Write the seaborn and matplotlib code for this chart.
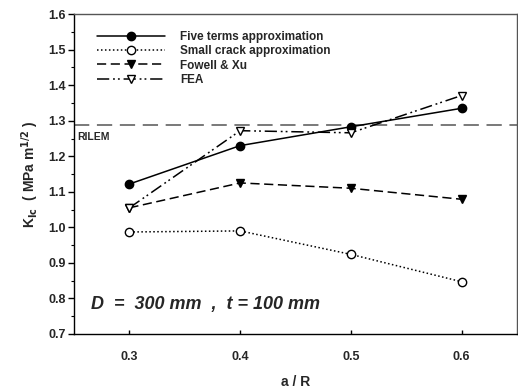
import matplotlib
matplotlib.use("Agg")
import matplotlib.pyplot as plt
from matplotlib.ticker import MultipleLocator
import seaborn as sns
import pandas as pd

# a/R ratios and fracture toughness results (MPa m^1/2)
a_over_r = [0.3, 0.4, 0.5, 0.6]
five_terms = [1.122, 1.230, 1.283, 1.335]
small_crack = [0.987, 0.990, 0.924, 0.847]
fowell_xu = [1.055, 1.125, 1.110, 1.079]
fea = [1.055, 1.272, 1.266, 1.371]
rilem_value = 1.288

series_labels = ["Five terms approximation", "Small crack approximation",
                 "Fowell & Xu", "FEA"]

sns.set_theme(style="white")
plt.rcParams["font.family"] = ["Liberation Sans", "DejaVu Sans"]
plt.rcParams["font.weight"] = "bold"
plt.rcParams["mathtext.default"] = "bf"

fig = plt.figure(figsize=(5.18, 3.92), dpi=100)
ax = fig.add_axes([0.143, 0.148, 0.855, 0.816])

styles = [
    dict(marker="o", linestyle="-", mfc="black", mec="black"),
    dict(marker="o", linestyle=(0, (1, 1.6)), mfc="white", mec="black"),
    dict(marker="v", linestyle=(0, (6, 3)), mfc="black", mec="black"),
    dict(marker="v", linestyle=(0, (8, 2.5, 1.2, 2, 1.2, 2.5)), mfc="white", mec="black"),
]
for vals, lab, st in zip([five_terms, small_crack, fowell_xu, fea], series_labels, styles):
    df = pd.DataFrame({"a/R": a_over_r, "K": vals})
    sns.lineplot(data=df, x="a/R", y="K", ax=ax, color="black", lw=1.1,
                 marker=st["marker"], linestyle=st["linestyle"],
                 markerfacecolor=st["mfc"], markeredgecolor=st["mec"],
                 markeredgewidth=1.0, markersize=6, label=lab)

# RILEM recommended value
ax.axhline(rilem_value, color="#555555", lw=1.1, linestyle=(0, (10, 5)), zorder=1)
ax.text(0.253, rilem_value - 0.02, "RILEM", fontsize=7.5, fontweight="bold",
        va="top", ha="left")

ax.text(0.265, 0.782, "D  =  300 mm  ,  t = 100 mm", fontsize=13,
        fontweight="bold", fontstyle="italic", va="center", ha="left")

ax.set_xlim(0.25, 0.65)
ax.set_ylim(0.7, 1.6)
ax.set_xticks(a_over_r)
ax.set_xticklabels(["0.3", "0.4", "0.5", "0.6"])
ax.yaxis.set_major_locator(MultipleLocator(0.1))
ax.yaxis.set_minor_locator(MultipleLocator(0.05))
ax.yaxis.set_major_formatter(matplotlib.ticker.FormatStrFormatter("%.1f"))

ax.tick_params(axis="y", which="major", direction="out", length=4, width=1,
               labelsize=9, left=True, color="black", pad=2)
ax.tick_params(axis="y", which="minor", direction="out", length=2, width=0.8,
               left=True, color="black")
ax.tick_params(axis="x", which="major", direction="in", length=3, width=1,
               labelsize=9, bottom=True, color="black", pad=12)

for sp in ax.spines.values():
    sp.set_color("black")
    sp.set_linewidth(1.0)
ax.spines["top"].set_color("#555555")
ax.spines["right"].set_color("#555555")

ax.set_xlabel("a / R", fontsize=10, fontweight="bold", labelpad=9)
ax.set_ylabel(r"K$_{\mathbf{Ic}}$  ( MPa m$^{\mathbf{1/2}}$ )", fontsize=10,
              fontweight="bold", labelpad=5)

leg = ax.legend(loc="upper left", bbox_to_anchor=(0.035, 0.97), frameon=False,
                fontsize=8.5, handlelength=5.8, handletextpad=1.3,
                labelspacing=0.2, borderaxespad=0.2)
for t in leg.get_texts():
    t.set_fontweight("bold")

fig.savefig("out.png", dpi=100)
